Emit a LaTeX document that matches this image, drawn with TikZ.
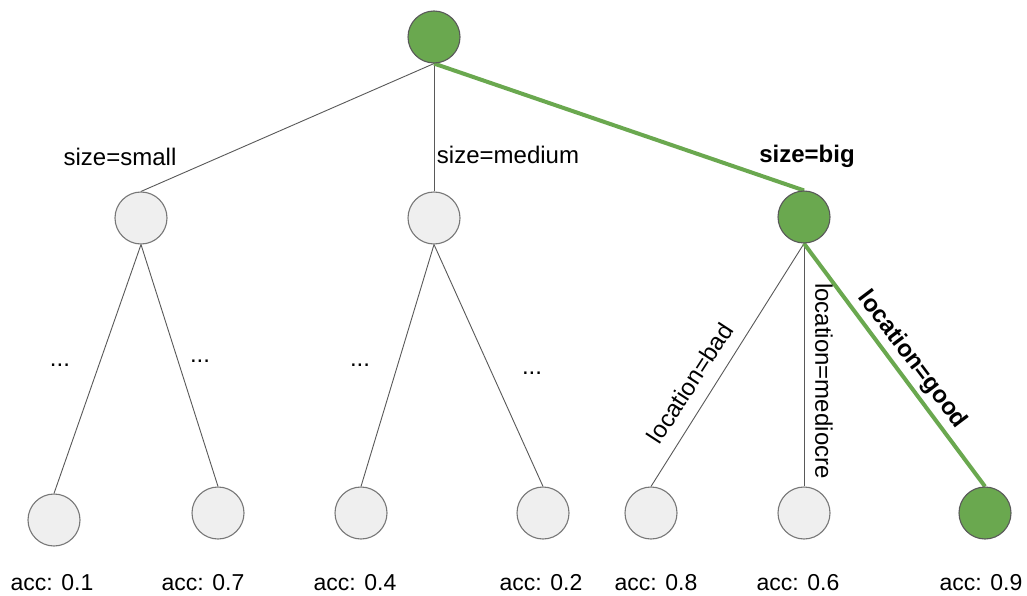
\documentclass[tikz,border=0pt]{standalone}
\usepackage{fontspec}
\setmainfont{Liberation Sans}
\usetikzlibrary{backgrounds}
\definecolor{gfill}{HTML}{6AA84F}
\definecolor{nfill}{HTML}{EFEFEF}
\definecolor{nborder}{HTML}{777777}
\definecolor{edgegray}{HTML}{595959}
\tikzset{
  graynode/.style={circle, draw=nborder, line width=1.1pt, fill=nfill, minimum size=52pt, inner sep=0pt},
  greennode/.style={circle, draw=edgegray, line width=1.1pt, fill=gfill, minimum size=52pt, inner sep=0pt},
  edge/.style={draw=edgegray, line width=0.9pt},
  hedge/.style={draw=gfill, line width=4pt},
  lbl/.style={font=\fontsize{24pt}{28pt}\selectfont, inner sep=0pt, text=black},
  blbl/.style={font=\fontsize{24pt}{28pt}\selectfont\bfseries, inner sep=0pt, text=black},
  acclbl/.style={font=\fontsize{23pt}{27pt}\selectfont, inner sep=0pt, anchor=base, text=black},
}
\begin{document}
\begin{tikzpicture}[x=1pt,y=-1pt]
\useasboundingbox (0,0) rectangle (1027,596);
% nodes
\node[greennode] (root) at (434,37) {};
\node[graynode] (s) at (141,218) {};
\node[graynode] (m) at (434,218) {};
\node[greennode] (b) at (804,217) {};
\node[graynode] (l1) at (54,520) {};
\node[graynode] (l2) at (218,513) {};
\node[graynode] (l3) at (361,513) {};
\node[graynode] (l4) at (543,513) {};
\node[graynode] (l5) at (651,513) {};
\node[graynode] (l6) at (804,513) {};
\node[greennode] (l7) at (985,513) {};
% background and edges (behind the nodes)
\begin{scope}[on background layer]
\fill[white] (0,0) rectangle (1027,596);
\draw[edge] (root.south) -- (s.north);
\draw[edge] (root.south) -- (m.north);
\draw[edge] (s.south) -- (l1.north);
\draw[edge] (s.south) -- (l2.north);
\draw[edge] (m.south) -- (l3.north);
\draw[edge] (m.south) -- (l4.north);
\draw[edge] (b.south) -- (l5.north);
\draw[edge] (b.south) -- (l6.north);
\draw[hedge] (root.south) -- (b.north);
\draw[hedge] (b.south) -- (l7.north);
\end{scope}
% edge labels
\node[lbl, anchor=base] (tsmall) at (120,166) {size=small};
\node[lbl, anchor=base] (tmed) at (508,164) {size=medium};
\node[blbl, anchor=base] (tbig) at (807,163) {size=big};
\node[lbl, rotate=57] (tbad) at (690,383) {location=bad};
\node[lbl, rotate=-90] (tmedi) at (824,381) {location=mediocre};
\node[blbl, rotate=-53] (tgood) at (912,360) {location=good};
% ellipses
\node[lbl, anchor=base] (d1) at (60,366) {...};
\node[lbl, anchor=base] (d2) at (200,362) {...};
\node[lbl, anchor=base] (d3) at (360,366) {...};
\node[lbl, anchor=base] (d4) at (532,374) {...};
% accuracies
\node[acclbl] (a1) at (52,590) {acc: 0.1};
\node[acclbl] (a2) at (203,590) {acc: 0.7};
\node[acclbl] (a3) at (355,590) {acc: 0.4};
\node[acclbl] (a4) at (541,590) {acc: 0.2};
\node[acclbl] (a5) at (656,590) {acc: 0.8};
\node[acclbl] (a6) at (798,590) {acc: 0.6};
\node[acclbl] (a7) at (981,590) {acc: 0.9};
\end{tikzpicture}
\end{document}
